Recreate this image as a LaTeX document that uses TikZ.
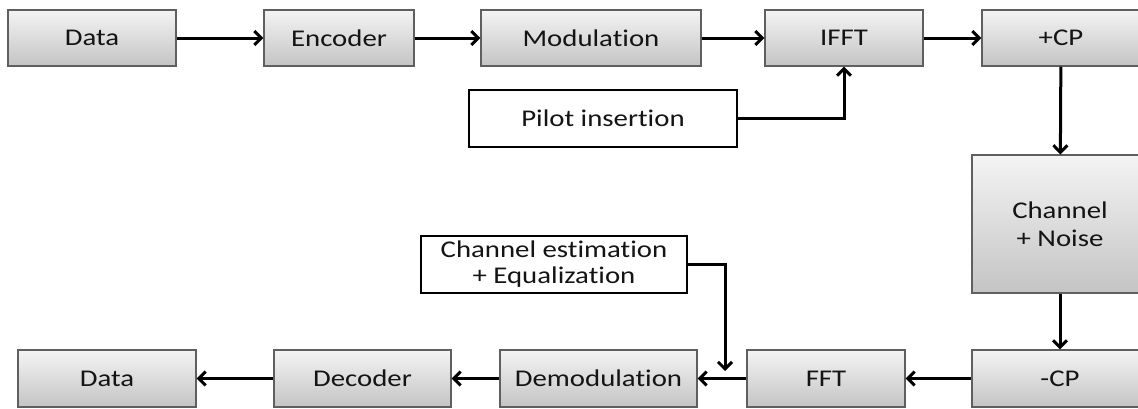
\documentclass[tikz,border=0pt]{standalone}
\usepackage{fontspec}
\setmainfont{Carlito}[FakeStretch=1.2,Ligatures={NoCommon}]
\usetikzlibrary{arrows.meta,shadows}

\definecolor{boxtop}{RGB}{244,244,244}
\definecolor{boxbot}{RGB}{196,196,196}
\definecolor{boxline}{RGB}{95,95,95}
\definecolor{txt}{RGB}{20,20,20}

\tikzset{
  block/.style={draw=boxline,line width=1.1pt,top color=boxtop,bottom color=boxbot,
    text=txt,align=center,inner sep=0pt,
    drop shadow={opacity=0.25,shadow xshift=1.2pt,shadow yshift=-1.2pt}},
  wbox/.style={draw=black,line width=2.2pt,fill=white,text=txt,align=center,inner sep=0pt},
  arr/.style={line width=3pt,-{Straight Barb[length=7pt,width=14pt,line width=3pt]}}
}

\begin{document}
\begin{tikzpicture}[x=1pt,y=1pt,yscale=-1,font=\fontsize{24}{28}\selectfont]
\useasboundingbox (0,0) rectangle (1138,408);
\clip (0,0) rectangle (1138,408);

% top row
\node[block,minimum width=168pt,minimum height=56pt] (data1) at (92,38) {Data};
\node[block,minimum width=150pt,minimum height=56pt] (enc) at (339,38) {Encoder};
\node[block,minimum width=220pt,minimum height=56pt] (mod) at (591,38) {Modulation};
\node[block,minimum width=158pt,minimum height=56pt] (ifft) at (844,38) {IFFT};
\node[block,minimum width=158pt,minimum height=56pt] (addcp) at (1061,38) {+CP};

% pilot
\node[wbox,minimum width=268pt,minimum height=57pt] (pilot) at (603,118.5) {Pilot insertion};

% channel
\node[block,minimum width=176pt,minimum height=138pt] (chan) at (1060,224) {Channel\\+ Noise};

% bottom row
\node[block,minimum width=176pt,minimum height=57pt] (remcp) at (1060,378.5) {-CP};
\node[block,minimum width=158pt,minimum height=57pt] (fft) at (826,378.5) {FFT};
\node[block,minimum width=197pt,minimum height=57pt] (demod) at (598.5,378.5) {Demodulation};
\node[block,minimum width=177pt,minimum height=57pt] (dec) at (362.5,378.5) {Decoder};
\node[block,minimum width=178pt,minimum height=57pt] (data2) at (107,378.5) {Data};

% estimation
\node[wbox,minimum width=266pt,minimum height=57pt] (chest) at (554,264.5) {Channel estimation\\[-2pt]+ Equalization};
\coordinate (join) at (725,371);

% connectors
\draw[arr] (data1) -- (enc);
\draw[arr] (enc) -- (mod);
\draw[arr] (mod) -- (ifft);
\draw[arr] (ifft) -- (addcp);
\draw[arr] (pilot) -| (ifft);
\draw[arr] (addcp) -- (chan);
\draw[arr] (chan) -- (remcp);
\draw[arr] (remcp) -- (fft);
\draw[arr] (fft) -- (demod);
\draw[arr] (chest) -| (join);
\draw[arr] (demod) -- (dec);
\draw[arr] (dec) -- (data2);
\end{tikzpicture}
\end{document}
